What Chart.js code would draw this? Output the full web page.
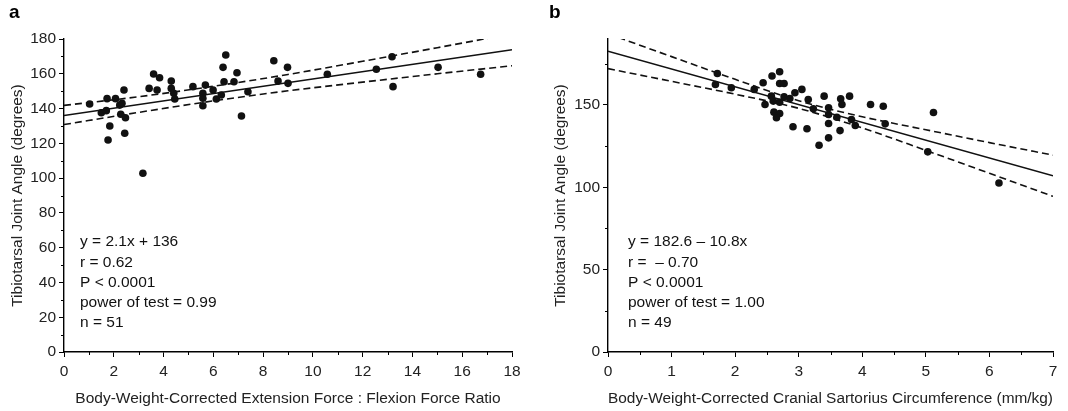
<!DOCTYPE html>
<html>
<head>
<meta charset="utf-8">
<script src="https://cdn.jsdelivr.net/npm/chart.js@4.4.1/dist/chart.umd.min.js"></script>
<style>
  body { margin: 0; background: #fff; width: 1068px; height: 411px; overflow: hidden; position: relative; font-family: "Liberation Sans", Arial, sans-serif; }
  .panel { position: absolute; top: 0; width: 534px; height: 411px; }
  .tag { position: absolute; top: 1px; font-weight: bold; font-size: 19px; color: #000; }
</style>
</head>
<body>
<div class="panel" style="left:0"><canvas id="chartA" width="534" height="411"></canvas></div>
<div class="panel" style="left:534px"><canvas id="chartB" width="534" height="411"></canvas></div>
<div class="tag" style="left:9px">a</div>
<div class="tag" style="left:549px">b</div>
<script>
// Panel a: extension/flexion force ratio vs tibiotarsal angle
const aX = [1.03, 1.50, 1.70, 1.73, 1.77, 1.84, 2.07, 2.24, 2.33, 2.28, 2.41, 2.47, 2.44, 3.17,
  3.42, 3.60, 3.74, 3.84, 4.31, 4.31, 4.41, 4.45, 5.18, 5.58, 5.58, 5.58, 5.68, 5.99, 6.12,
  6.32, 6.39, 6.43, 6.50, 6.83, 6.95, 7.13, 7.39, 8.43, 8.60, 8.98, 9.00, 10.58, 12.55,
  13.18, 13.22, 15.03, 16.74];
const aY = [142.6, 137.6, 138.8, 145.7, 121.9, 130.0, 145.7, 142.0, 143.0, 136.7, 150.7, 134.7, 125.8, 102.8,
  151.6, 159.9, 150.7, 157.7, 155.8, 151.6, 148.8, 145.5, 152.6, 148.8, 145.9, 141.6, 153.5, 150.7, 145.5,
  147.8, 163.7, 155.4, 170.8, 155.4, 160.6, 135.7, 149.7, 167.5, 155.8, 163.7, 154.5, 159.7, 162.6,
  169.8, 152.6, 163.7, 159.7];
const aFitX = [0, 18];
const aFitY = [136, 173.8];
const aBandX = [0, 3, 6, 9, 12, 15, 18];
const aUpper = [141.8, 146.8, 152.8, 159.6, 167.2, 175.0, 183.0];
const aLower = [130.8, 137.8, 144.4, 150.2, 155.2, 160.0, 164.6];
const aNotes = ["y = 2.1x + 136", "r = 0.62", "P < 0.0001", "power of test = 0.99", "n = 51"];

// Panel b: cranial sartorius circumference vs tibiotarsal angle
const bX = [1.72, 1.69, 1.94, 2.30, 2.44, 2.47, 2.58, 2.70, 2.70, 2.77, 2.57, 2.60, 2.70, 2.77,
  2.61, 2.70, 2.65, 2.86, 2.94, 3.05, 2.91, 3.13, 3.15, 3.23, 3.40, 3.32, 3.47, 3.47, 3.47,
  3.47, 3.66, 3.68, 3.80, 4.13, 4.33, 5.12, 3.60, 3.83, 3.89, 4.36, 3.65, 5.03, 6.15];
const bY = [169.1, 162.4, 160.4, 159.4, 163.4, 150.2, 167.5, 170.1, 163.0, 163.0, 155.3, 152.3, 151.6, 154.9,
  145.6, 144.8, 142.2, 153.9, 157.4, 159.4, 136.7, 135.5, 153.3, 147.6, 155.3, 125.5, 148.2, 144.2, 138.7,
  130.0, 153.7, 150.2, 155.3, 150.2, 149.2, 145.4, 142.5, 141.1, 137.5, 138.5, 134.4, 121.5, 102.6];
const bFitX = [0, 7];
const bFitY = [182.6, 107.0];
const bBandX = [0, 1, 2, 3, 4, 5, 6, 7];
const bUpper = [193.2, 179.3, 165.5, 152.5, 142.8, 134.9, 127.1, 119.5];
const bLower = [172.0, 164.3, 156.5, 147.9, 136.0, 122.4, 108.5, 94.5];
const bNotes = ["y = 182.6 \u2013 10.8x", "r =  \u2013 0.70", "P < 0.0001", "power of test = 1.00", "n = 49"];

const yTitle = "Tibiotarsal Joint Angle (degrees)";
const FONT = "'Liberation Sans', Arial, sans-serif";
const FSIZE = 15.5;
const INK = "#111";

function pts(xs, ys) {
  return xs.map((x, i) => ({ x: x, y: ys[i] }));
}

function near(v, step) {
  const r = v / step;
  return Math.abs(r - Math.round(r)) < 1e-6;
}

// short minor ticks and the stats text block
const extras = {
  id: "extras",
  afterDraw(chart, args, opts) {
    const ctx = chart.ctx;
    const xs = chart.scales.x, ys = chart.scales.y;
    const area = chart.chartArea;
    ctx.save();
    ctx.strokeStyle = "#000";
    ctx.lineWidth = 1;
    ctx.beginPath();
    xs.ticks.forEach(t => {
      if (!near(t.value, opts.xMajor)) {
        const px = Math.round(xs.getPixelForValue(t.value)) + 0.5;
        ctx.moveTo(px, area.bottom);
        ctx.lineTo(px, area.bottom + 3);
      }
    });
    ys.ticks.forEach(t => {
      if (!near(t.value, opts.yMajor)) {
        const py = Math.round(ys.getPixelForValue(t.value)) + 0.5;
        ctx.moveTo(area.left, py);
        ctx.lineTo(area.left - 3, py);
      }
    });
    ctx.stroke();

    ctx.fillStyle = INK;
    ctx.font = FSIZE + "px " + FONT;
    ctx.textBaseline = "middle";
    ctx.textAlign = "left";
    opts.lines.forEach((s, i) => {
      ctx.fillText(s, area.left + opts.dx, 242 + i * 20.3);
    });
    ctx.restore();
  }
};

function makeChart(id, cfg) {
  const axisX = {
    type: "linear",
    min: 0,
    max: cfg.xMax,
    border: { display: true, color: "#000", width: 1.4 },
    grid: {
      drawOnChartArea: false,
      tickLength: 5,
      tickWidth: 1,
      tickColor: c => (c.tick && near(c.tick.value, cfg.xMajor) ? "#000" : "rgba(0,0,0,0)")
    },
    ticks: {
      stepSize: cfg.xMinor,
      maxRotation: 0,
      autoSkip: false,
      padding: 5,
      color: "#222",
      font: { family: FONT, size: FSIZE },
      callback: v => (near(v, cfg.xMajor) ? String(v) : "")
    },
    title: {
      display: true,
      text: cfg.xTitle,
      color: "#222",
      font: { family: FONT, size: FSIZE },
      padding: { top: 0, bottom: 3 }
    },
    afterFit: s => { s.height = 59; }
  };
  const axisY = {
    type: "linear",
    min: 0,
    max: cfg.yMax,
    border: { display: true, color: "#000", width: 1.4 },
    grid: {
      drawOnChartArea: false,
      tickLength: 5,
      tickWidth: 1,
      tickColor: c => (c.tick && near(c.tick.value, cfg.yMajor) ? "#000" : "rgba(0,0,0,0)")
    },
    afterBuildTicks: s => { s.ticks = s.ticks.filter(t => near(t.value, cfg.yMinor)); },
    ticks: {
      stepSize: cfg.yMinor,
      autoSkip: false,
      padding: 3,
      color: "#222",
      font: { family: FONT, size: FSIZE },
      callback: v => (near(v, cfg.yMajor) ? String(v) : "")
    },
    title: {
      display: true,
      text: yTitle,
      color: "#222",
      font: { family: FONT, size: FSIZE },
      padding: { top: cfg.yTitlePad, bottom: 0 }
    },
    afterFit: s => { s.width = cfg.yWidth; }
  };

  const line = (data, dashed) => ({
    data: data,
    showLine: true,
    borderColor: INK,
    borderWidth: 1.6,
    borderDash: dashed ? [7, 4] : [],
    pointRadius: 0,
    fill: false,
    tension: 0,
    cubicInterpolationMode: dashed ? "monotone" : "default"
  });

  return new Chart(document.getElementById(id), {
    type: "scatter",
    data: {
      datasets: [
        line(pts(cfg.bandX, cfg.upper), true),
        line(pts(cfg.bandX, cfg.lower), true),
        line(pts(cfg.fitX, cfg.fitY), false),
        {
          data: pts(cfg.x, cfg.y),
          pointRadius: 3.8,
          pointBackgroundColor: INK,
          pointBorderColor: INK,
          pointBorderWidth: 0,
          showLine: false
        }
      ]
    },
    options: {
      responsive: false,
      animation: false,
      devicePixelRatio: 1,
      layout: { padding: { left: 0, right: cfg.padRight, top: 39, bottom: 0 } },
      plugins: {
        legend: { display: false },
        tooltip: { enabled: false },
        extras: { xMajor: cfg.xMajor, yMajor: cfg.yMajor, lines: cfg.notes, dx: cfg.noteDx }
      },
      scales: { x: axisX, y: axisY }
    },
    plugins: [extras]
  });
}

makeChart("chartA", {
  x: aX, y: aY, fitX: aFitX, fitY: aFitY, bandX: aBandX, upper: aUpper, lower: aLower,
  notes: aNotes, noteDx: 16,
  xMax: 18, xMinor: 1, xMajor: 2,
  yMax: 180, yMinor: 10, yMajor: 20,
  xTitle: "Body-Weight-Corrected Extension Force : Flexion Force Ratio",
  yWidth: 64, yTitlePad: 8, padRight: 22
});

makeChart("chartB", {
  x: bX, y: bY, fitX: bFitX, fitY: bFitY, bandX: bBandX, upper: bUpper, lower: bLower,
  notes: bNotes, noteDx: 20,
  xMax: 7, xMinor: 0.5, xMajor: 1,
  yMax: 190, yMinor: 25, yMajor: 50,
  xTitle: "Body-Weight-Corrected Cranial Sartorius Circumference (mm/kg)",
  yWidth: 74, yTitlePad: 17, padRight: 15
});
</script>
</body>
</html>
